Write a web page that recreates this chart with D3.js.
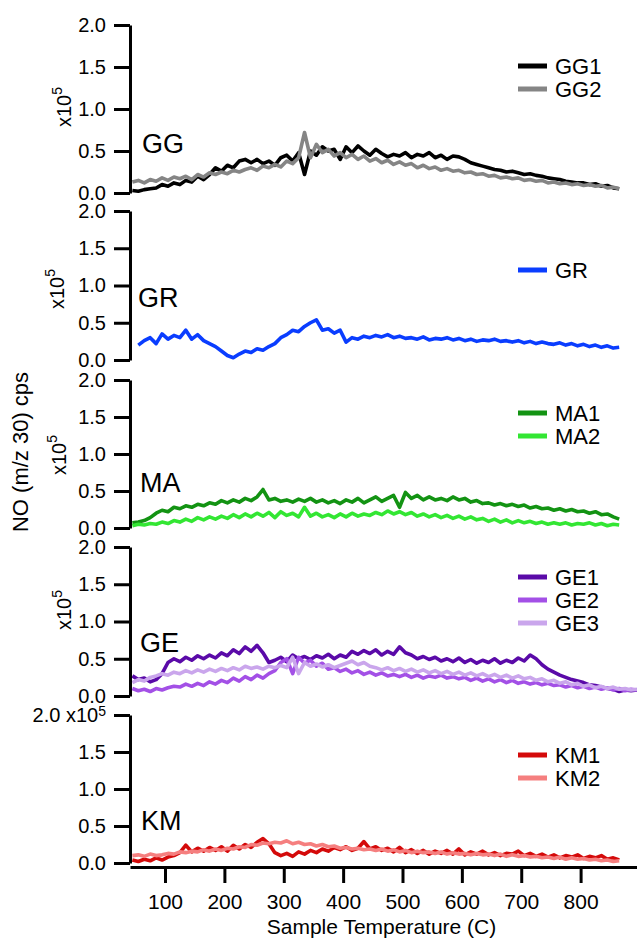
<!DOCTYPE html>
<html>
<head>
<meta charset="utf-8">
<script src="https://cdn.jsdelivr.net/npm/d3@7"></script>
<style>
  html, body { margin: 0; padding: 0; background: #fff; }
  svg { display: block; font-family: "Liberation Sans", Arial, Helvetica, sans-serif; }
</style>
</head>
<body>
<svg id="chart" width="637" height="939"></svg>
<script>
// ---------------- DATA ----------------
const temps = [45,55,65,75,85,95,105,115,125,135,145,155,165,175,185,195,205,215,225,235,245,255,265,275,285,295,305,315,325,335,345,355,365,375,385,395,405,415,425,435,445,455,465,475,485,495,505,515,525,535,545,555,565,575,585,595,605,615,625,635,645,655,665,675,685,695,705,715,725,735,745,755,765,775,785,795,805,815,825,835,845,855,865,875,885,895];
const xTickValues = [100,200,300,400,500,600,700,800];
const yTickValues = [0,0.5,1.0,1.5,2.0];
const panelNames = ["GG","GR","MA","GE","KM"];
const xTitle = "Sample Temperature (C)";
const yTitle = "NO (m/z 30) cps";

// values in units of 1e5 cps
const GG1 = [0.03,0.02,0.04,0.05,0.06,0.10,0.08,0.12,0.10,0.15,0.13,0.20,0.16,0.22,0.30,0.26,0.33,0.30,0.38,0.40,0.36,0.40,0.35,0.38,0.33,0.42,0.45,0.38,0.48,0.22,0.50,0.45,0.55,0.50,0.52,0.40,0.55,0.48,0.56,0.50,0.45,0.52,0.47,0.43,0.46,0.44,0.48,0.42,0.46,0.44,0.48,0.42,0.45,0.40,0.44,0.43,0.40,0.36,0.34,0.32,0.30,0.28,0.27,0.25,0.26,0.24,0.22,0.23,0.21,0.20,0.18,0.17,0.16,0.14,0.13,0.12,0.12,0.10,0.11,0.08,0.09,0.06,0.05];
const GG2 = [0.13,0.15,0.12,0.16,0.14,0.18,0.15,0.19,0.17,0.20,0.16,0.22,0.19,0.24,0.22,0.25,0.23,0.27,0.25,0.28,0.30,0.27,0.32,0.30,0.34,0.31,0.38,0.35,0.42,0.72,0.42,0.58,0.48,0.52,0.44,0.48,0.42,0.46,0.40,0.44,0.38,0.41,0.36,0.39,0.34,0.37,0.33,0.35,0.30,0.33,0.29,0.31,0.27,0.29,0.26,0.27,0.24,0.25,0.22,0.23,0.20,0.21,0.18,0.19,0.17,0.18,0.15,0.16,0.14,0.15,0.12,0.13,0.11,0.12,0.10,0.11,0.09,0.10,0.08,0.09,0.06,0.07,0.05];
const GR  = [null,0.20,0.26,0.30,0.22,0.35,0.28,0.33,0.30,0.40,0.28,0.34,0.26,0.22,0.18,0.12,0.06,0.03,0.08,0.12,0.10,0.15,0.13,0.18,0.22,0.30,0.34,0.40,0.38,0.45,0.50,0.54,0.40,0.42,0.36,0.40,0.24,0.30,0.28,0.32,0.30,0.33,0.31,0.34,0.30,0.32,0.29,0.30,0.28,0.31,0.27,0.29,0.28,0.30,0.27,0.29,0.26,0.28,0.25,0.27,0.26,0.28,0.25,0.26,0.24,0.26,0.23,0.25,0.22,0.24,0.22,0.21,0.23,0.20,0.22,0.19,0.21,0.18,0.20,0.17,0.19,0.16,0.17];
const MA1 = [0.07,0.08,0.10,0.14,0.20,0.24,0.22,0.28,0.26,0.30,0.28,0.32,0.30,0.34,0.32,0.37,0.34,0.38,0.35,0.40,0.37,0.42,0.52,0.38,0.40,0.36,0.38,0.35,0.39,0.36,0.40,0.35,0.38,0.34,0.37,0.33,0.38,0.35,0.40,0.34,0.38,0.42,0.36,0.40,0.44,0.28,0.48,0.40,0.44,0.38,0.42,0.38,0.40,0.37,0.42,0.38,0.40,0.35,0.37,0.33,0.34,0.31,0.33,0.30,0.32,0.29,0.31,0.27,0.29,0.26,0.27,0.24,0.26,0.23,0.25,0.22,0.23,0.20,0.22,0.18,0.19,0.15,0.12];
const MA2 = [0.03,0.05,0.04,0.06,0.05,0.08,0.06,0.10,0.08,0.12,0.09,0.14,0.11,0.15,0.12,0.16,0.13,0.18,0.14,0.19,0.15,0.20,0.16,0.21,0.14,0.22,0.17,0.20,0.15,0.28,0.16,0.20,0.15,0.18,0.14,0.19,0.15,0.20,0.16,0.19,0.17,0.21,0.18,0.23,0.19,0.22,0.18,0.21,0.16,0.19,0.15,0.18,0.14,0.17,0.13,0.16,0.12,0.15,0.11,0.13,0.09,0.12,0.08,0.11,0.07,0.10,0.07,0.09,0.06,0.08,0.05,0.07,0.05,0.07,0.04,0.06,0.05,0.07,0.04,0.06,0.03,0.05,0.04];
const GE1 = [0.27,0.22,0.24,0.19,0.22,0.30,0.45,0.50,0.46,0.52,0.48,0.54,0.50,0.55,0.51,0.58,0.54,0.62,0.57,0.66,0.60,0.68,0.58,0.45,0.48,0.52,0.46,0.55,0.50,0.53,0.49,0.54,0.51,0.56,0.50,0.55,0.52,0.60,0.56,0.61,0.57,0.62,0.55,0.60,0.56,0.66,0.58,0.55,0.50,0.53,0.49,0.52,0.47,0.50,0.46,0.51,0.45,0.49,0.44,0.48,0.45,0.50,0.44,0.48,0.45,0.51,0.47,0.55,0.50,0.42,0.36,0.32,0.28,0.25,0.22,0.20,0.18,0.15,0.14,0.12,0.10,0.09,0.06,0.08,0.07,0.08];
const GE2 = [0.10,0.07,0.09,0.06,0.10,0.08,0.11,0.13,0.12,0.16,0.13,0.17,0.14,0.19,0.16,0.21,0.18,0.24,0.20,0.26,0.22,0.28,0.24,0.30,0.34,0.45,0.50,0.30,0.52,0.44,0.48,0.40,0.44,0.36,0.38,0.33,0.36,0.31,0.34,0.29,0.32,0.28,0.31,0.27,0.29,0.26,0.29,0.25,0.28,0.24,0.27,0.25,0.28,0.24,0.26,0.23,0.25,0.21,0.24,0.20,0.23,0.19,0.22,0.18,0.21,0.17,0.19,0.16,0.18,0.15,0.17,0.14,0.15,0.12,0.14,0.11,0.13,0.10,0.12,0.09,0.11,0.08,0.10,0.07,0.09,0.08];
const GE3 = [0.18,0.22,0.20,0.25,0.27,0.30,0.28,0.32,0.30,0.34,0.31,0.35,0.32,0.36,0.33,0.37,0.34,0.38,0.35,0.40,0.37,0.39,0.36,0.40,0.38,0.41,0.38,0.52,0.30,0.45,0.40,0.43,0.39,0.42,0.38,0.41,0.44,0.47,0.42,0.45,0.40,0.38,0.35,0.38,0.34,0.37,0.33,0.36,0.32,0.35,0.31,0.34,0.30,0.33,0.29,0.32,0.28,0.31,0.27,0.30,0.26,0.29,0.25,0.28,0.24,0.27,0.23,0.25,0.21,0.23,0.19,0.21,0.17,0.19,0.15,0.17,0.13,0.15,0.11,0.13,0.10,0.12,0.09,0.10,0.08,0.09];
const KM1 = [0.04,0.02,0.05,0.03,0.07,0.04,0.08,0.10,0.14,0.24,0.15,0.20,0.16,0.21,0.17,0.22,0.16,0.24,0.19,0.25,0.21,0.28,0.33,0.26,0.14,0.10,0.13,0.09,0.15,0.12,0.17,0.14,0.19,0.16,0.21,0.18,0.22,0.17,0.20,0.29,0.19,0.22,0.17,0.20,0.15,0.21,0.14,0.18,0.13,0.17,0.12,0.16,0.13,0.17,0.12,0.19,0.11,0.15,0.12,0.16,0.11,0.14,0.10,0.13,0.12,0.16,0.10,0.13,0.09,0.12,0.08,0.11,0.07,0.10,0.08,0.11,0.06,0.09,0.07,0.10,0.05,0.07,0.04];
const KM2 = [0.10,0.11,0.09,0.12,0.10,0.11,0.13,0.12,0.15,0.14,0.16,0.15,0.18,0.16,0.19,0.17,0.20,0.19,0.22,0.21,0.25,0.24,0.27,0.26,0.28,0.27,0.30,0.26,0.28,0.25,0.26,0.23,0.25,0.22,0.23,0.20,0.21,0.19,0.20,0.18,0.19,0.17,0.19,0.16,0.18,0.15,0.17,0.14,0.16,0.14,0.15,0.13,0.15,0.12,0.14,0.12,0.13,0.11,0.13,0.11,0.12,0.10,0.12,0.09,0.11,0.09,0.10,0.08,0.09,0.07,0.08,0.06,0.08,0.05,0.07,0.05,0.06,0.04,0.05,0.03,0.04,0.02,0.03];

const panelSeries = [
  [{name:"GG1", values:GG1, color:"#000000"}, {name:"GG2", values:GG2, color:"#858585"}],
  [{name:"GR",  values:GR,  color:"#0a3dff"}],
  [{name:"MA1", values:MA1, color:"#139313"}, {name:"MA2", values:MA2, color:"#33e633"}],
  [{name:"GE1", values:GE1, color:"#5a0aa8"}, {name:"GE2", values:GE2, color:"#a350e6"}, {name:"GE3", values:GE3, color:"#caa6ec"}],
  [{name:"KM1", values:KM1, color:"#d40a0a"}, {name:"KM2", values:KM2, color:"#f57f7f"}]
];

// ---------------- LAYOUT ----------------
const layout = [
  {top:25,  bottom:193, label:[142,153], exp:[71,107], legendY:66},
  {top:211, bottom:360, label:[138,307], exp:[64,289], legendY:270},
  {top:380, bottom:528, label:[140,492], exp:[66,455], legendY:413},
  {top:547, bottom:696, label:[140,652], exp:[71,610], legendY:577},
  {top:715, bottom:863, label:[141,830], exp:null,     legendY:755}
];
const axisX = 130, plotRight = 637, xAxisY = 867;
const legendX1 = 518, legendX2 = 547, legendTextX = 555, legendStep = 23;
const fontTick = 20, fontLegend = 22, fontPanel = 27, fontTitle = 21;

const svg = d3.select("#chart");
const x = d3.scaleLinear().domain([41, 895]).range([axisX, plotRight]);

panelSeries.forEach((series, i) => {
  const L = layout[i];
  const y = d3.scaleLinear().domain([0, 2]).range([L.bottom, L.top]);
  const g = svg.append("g");

  // data lines
  series.forEach(s => {
    const pts = temps.slice(0, s.values.length).map((t, k) => ({t, v: s.values[k]}));
    const line = d3.line()
      .defined(d => d.v !== null)
      .x(d => x(d.t)).y(d => y(d.v));
    g.append("path").datum(pts)
      .attr("d", line).attr("fill", "none")
      .attr("stroke", s.color).attr("stroke-width", 3.6)
      .attr("stroke-linejoin", "round");
  });

  // y axis
  const ax = g.append("g").attr("transform", `translate(${axisX},0)`)
    .call(d3.axisLeft(y).tickValues(yTickValues).tickSize(16).tickSizeOuter(0)
      .tickPadding(8).tickFormat(d3.format(".1f")));
  ax.select(".domain").attr("stroke", "#000").attr("stroke-width", 3);
  ax.selectAll(".tick line").attr("stroke", "#000").attr("stroke-width", 3);
  ax.selectAll(".tick text").attr("fill", "#000")
    .style("font-size", fontTick + "px")
    .style("font-family", "'Liberation Sans', Arial, sans-serif");

  if (L.exp) {
    const t = g.append("text")
      .attr("transform", `translate(${L.exp[0]},${L.exp[1]}) rotate(-90)`)
      .attr("text-anchor", "middle")
      .style("font-size", "20px").attr("fill", "#000");
    t.append("tspan").text("x10");
    t.append("tspan").attr("dy", -9).style("font-size", "14px").text("5");
  } else {
    // exponent attached to top tick label
    ax.selectAll(".tick").filter(d => d === 2).select("text")
      .each(function() {
        const txt = d3.select(this);
        txt.text("2.0 x10");
        txt.append("tspan").attr("dy", "-0.45em").style("font-size", "14px").text("5");
      });
  }

  // panel label
  g.append("text").attr("x", L.label[0]).attr("y", L.label[1])
    .style("font-size", fontPanel + "px").attr("fill", "#000").text(panelNames[i]);

  // legend
  series.forEach((s, k) => {
    const ly = L.legendY + k * legendStep;
    g.append("line").attr("x1", legendX1).attr("x2", legendX2)
      .attr("y1", ly).attr("y2", ly)
      .attr("stroke", s.color).attr("stroke-width", 5);
    g.append("text").attr("x", legendTextX).attr("y", ly).attr("dy", "0.36em")
      .style("font-size", fontLegend + "px").attr("fill", "#000").text(s.name);
  });
});

// x axis
const xa = svg.append("g").attr("transform", `translate(0,${xAxisY})`)
  .call(d3.axisBottom(x).tickValues(xTickValues).tickSize(16).tickSizeOuter(0).tickPadding(11));
xa.select(".domain").attr("stroke", "#000").attr("stroke-width", 3);
xa.selectAll(".tick line").attr("stroke", "#000").attr("stroke-width", 3);
xa.selectAll(".tick text").attr("fill", "#000").style("font-size", "21px")
  .style("font-family", "'Liberation Sans', Arial, sans-serif");

svg.append("text").attr("x", (axisX + plotRight) / 2 - 2).attr("y", 934)
  .attr("text-anchor", "middle").style("font-size", fontTitle + "px").attr("fill", "#000").text(xTitle);

svg.append("text").attr("transform", "translate(28,452) rotate(-90)")
  .attr("text-anchor", "middle").style("font-size", "22px").attr("fill", "#000").text(yTitle);
</script>
</body>
</html>
